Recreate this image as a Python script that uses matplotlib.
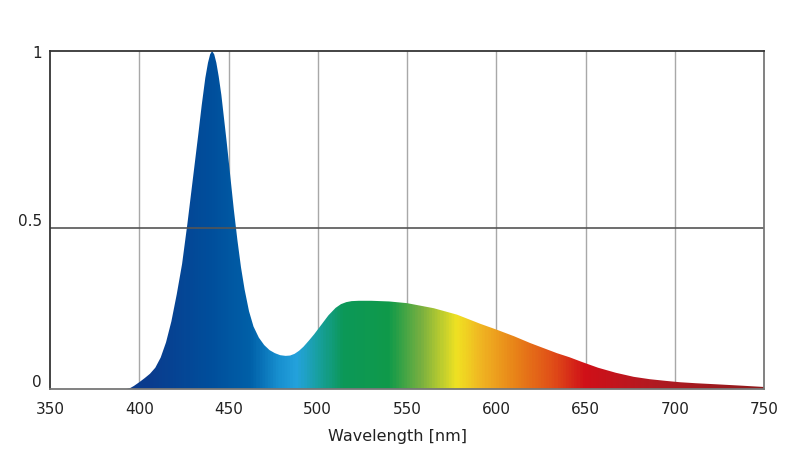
import matplotlib
matplotlib.use('Agg')
import matplotlib.pyplot as plt
import numpy as np
from matplotlib.colors import LinearSegmentedColormap
from matplotlib.patches import Polygon

# spectrum (wavelength nm, relative intensity)
wavelength = [393, 395, 397, 400, 403, 406, 409, 412, 415, 418, 421, 424, 427, 430,
              433, 435, 437, 438.5, 439.7, 440.8, 442, 443.2, 444.5, 446, 447.5, 449,
              451, 453, 455, 457, 459, 461.5, 464, 467, 470, 473, 476, 479, 482, 484.5,
              487, 489.5, 492, 495, 498, 502, 506, 510, 513, 516, 519, 523, 530, 540,
              550, 565, 578, 591, 600, 610, 619, 627, 634, 641, 648, 657, 667, 677,
              686, 695, 703, 712, 723, 737, 750]
intensity = [0.0, 0.003, 0.009, 0.02, 0.032, 0.045, 0.063, 0.093, 0.138, 0.20, 0.28,
             0.37, 0.49, 0.62, 0.75, 0.84, 0.92, 0.965, 0.99, 1.0, 0.99, 0.965, 0.925,
             0.87, 0.8, 0.73, 0.63, 0.53, 0.44, 0.36, 0.295, 0.23, 0.185, 0.152, 0.13,
             0.115, 0.106, 0.1, 0.098, 0.099, 0.104, 0.113, 0.125, 0.143, 0.162, 0.19,
             0.218, 0.24, 0.251, 0.257, 0.26, 0.261, 0.261, 0.259, 0.254, 0.239, 0.22,
             0.193, 0.176, 0.156, 0.136, 0.12, 0.106, 0.094, 0.08, 0.063, 0.048, 0.036,
             0.029, 0.024, 0.02, 0.017, 0.014, 0.01, 0.006]

x_ticks = [350, 400, 450, 500, 550, 600, 650, 700, 750]
y_labels = ['0', '0.5', '1']

# colour stops of the spectrum fill
color_nm = [350, 405, 440, 462, 478, 488, 500, 514, 540, 558, 578, 592, 612, 632,
            650, 690, 750]
color_hex = ['#0a3888', '#0a3c8e', '#004f9c', '#0060a8', '#1890d0', '#24a2dc',
             '#18a0a0', '#0c9858', '#109a4a', '#78b040', '#f0e222', '#f0b422',
             '#e88018', '#e04e18', '#d01018', '#b01a22', '#901a1c']

plt.rcParams['font.family'] = ['DejaVu Sans']

fig = plt.figure(figsize=(7.99, 4.6), dpi=100)
ax = fig.add_axes([50 / 799, 70 / 460, 714 / 799, 338 / 460])
ax.set_xlim(350, 750)
ax.set_ylim(0, 1)

stops = [(n - 350) / 400 for n in color_nm]
cmap = LinearSegmentedColormap.from_list('spec', list(zip(stops, color_hex)))
grad = np.linspace(0, 1, 800).reshape(1, -1)
img = ax.imshow(grad, cmap=cmap, extent=[350, 750, 0, 1], aspect='auto',
                interpolation='bilinear', zorder=2)
pts = list(zip(wavelength, intensity)) + [(750, 0), (393, 0)]
poly = Polygon(pts, closed=True, facecolor='none', edgecolor='none')
ax.add_patch(poly)
img.set_clip_path(poly)

# the "0.5" rule sits a little below the true middle in the original
mid_pos = 0.475
for xv in x_ticks[1:-1]:
    ax.axvline(xv, color='#a8a8a8', lw=1.0, zorder=1)
ax.axhline(mid_pos, color='#555555', lw=1.2, zorder=3)

for side in ['top', 'left']:
    ax.spines[side].set_color('#353535')
for side in ['bottom', 'right']:
    ax.spines[side].set_color('#777777')
for s in ax.spines.values():
    s.set_linewidth(1.3)
    s.set_zorder(4)

ax.set_xticks(x_ticks)
ax.set_yticks([0, mid_pos, 1])
ax.set_yticklabels(y_labels)
ax.tick_params(length=0, labelsize=11, labelcolor='#222222')
ax.tick_params(axis='x', pad=9)
ax.tick_params(axis='y', pad=6)
for lab in ax.get_yticklabels()[:2]:
    lab.set_verticalalignment('bottom')
ax.set_xlabel('Wavelength [nm]', fontsize=11.5, color='#222222', labelpad=8)
ax.xaxis.label.set_x(0.487)

fig.savefig('out.png', dpi=100)
